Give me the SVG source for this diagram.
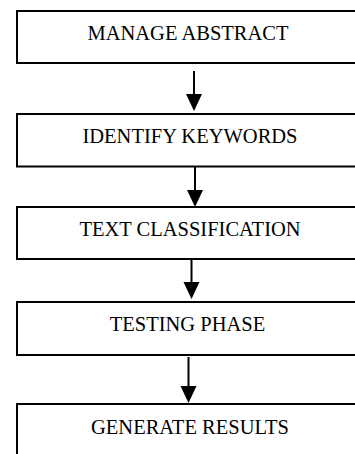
<svg xmlns="http://www.w3.org/2000/svg" width="355" height="454" viewBox="0 0 355 454">
<defs>
<style>
.box{fill:#fff;stroke:#000;stroke-width:2}
.lbl{font-family:"Liberation Serif","Times New Roman",serif;font-size:20.5px;fill:#000;text-anchor:middle}
.con{stroke:#000;stroke-width:2;fill:none}
.head{fill:#000}
</style>
</defs>
<rect width="355" height="454" fill="#fff"/>
<g id="n1"><rect class="box" x="17" y="11" width="350" height="52"/><text class="lbl" x="188" y="39.5">MANAGE ABSTRACT</text></g>
<g id="n2"><rect class="box" x="17" y="114" width="350" height="52.5"/><text class="lbl" x="190" y="143">IDENTIFY KEYWORDS</text></g>
<g id="n3"><rect class="box" x="17" y="207" width="350" height="52"/><text class="lbl" x="190" y="236">TEXT CLASSIFICATION</text></g>
<g id="n4"><rect class="box" x="17" y="302" width="350" height="53"/><text class="lbl" x="187.5" y="330.5">TESTING PHASE</text></g>
<g id="n5"><rect class="box" x="17" y="404" width="350" height="60"/><text class="lbl" x="190" y="434">GENERATE RESULTS</text></g>
<g id="connectors">
<line class="con" x1="194" y1="71" x2="194" y2="96"/><polygon class="head" points="186,94 202,94 194,111"/>
<line class="con" x1="195" y1="167" x2="195" y2="192"/><polygon class="head" points="187,190 203,190 195,207"/>
<line class="con" x1="191.5" y1="260" x2="191.5" y2="284"/><polygon class="head" points="183.5,282 199.5,282 191.5,299"/>
<line class="con" x1="188.5" y1="357" x2="188.5" y2="388"/><polygon class="head" points="180.5,386 196.5,386 188.5,403"/>
</g>
</svg>
